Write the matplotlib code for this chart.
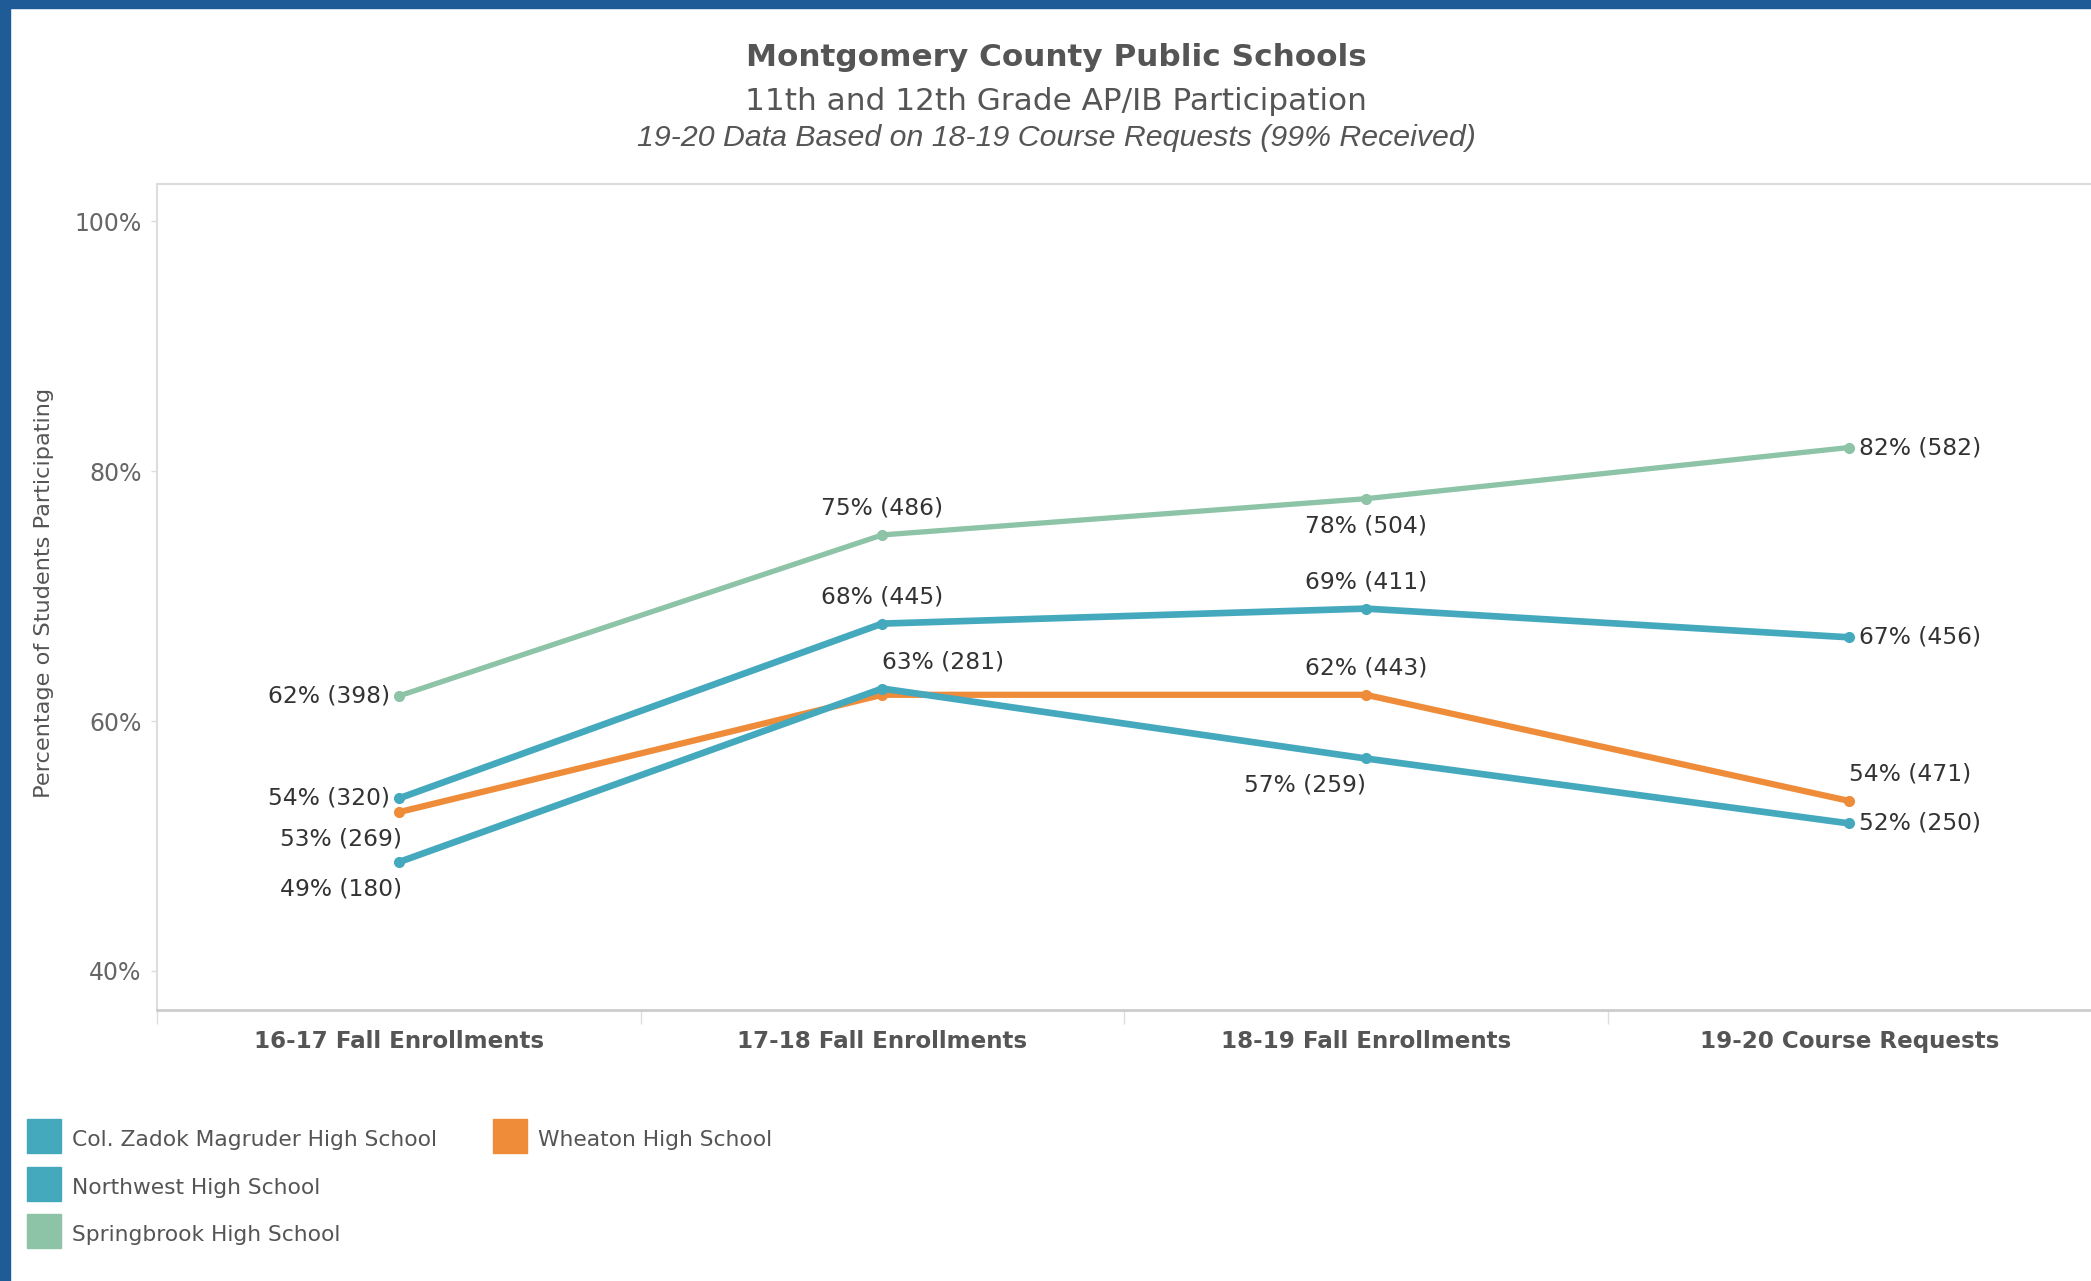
import matplotlib
matplotlib.use("Agg")
import matplotlib.pyplot as plt
from matplotlib.lines import Line2D
from matplotlib.patches import Rectangle

# ---------------- data ----------------
categories = ["16-17 Fall Enrollments", "17-18 Fall Enrollments",
              "18-19 Fall Enrollments", "19-20 Course Requests"]
schools = ["Col. Zadok Magruder High School", "Northwest High School",
           "Springbrook High School", "Wheaton High School"]

magruder_pct = [48.7, 62.6, 57.0, 51.8]
magruder_n = [180, 281, 259, 250]
northwest_pct = [53.8, 67.8, 69.0, 66.7]
northwest_n = [320, 445, 411, 456]
springbrook_pct = [62.0, 74.9, 77.8, 81.9]
springbrook_n = [398, 486, 504, 582]
wheaton_pct = [52.7, 62.1, 62.1, 53.6]
wheaton_n = [269, None, 443, 471]

y_ticks = [40, 60, 80, 100]

# ---------------- styles ----------------
TEAL = "#45A9BE"
GREEN = "#8DC3A7"
ORANGE = "#EE8C3A"
BORDER = "#1E5B97"

series = [
    ("Wheaton High School", wheaton_pct, wheaton_n, ORANGE, 4.5, 2),
    ("Col. Zadok Magruder High School", magruder_pct, magruder_n, TEAL, 4.8, 3),
    ("Northwest High School", northwest_pct, northwest_n, TEAL, 4.8, 3),
    ("Springbrook High School", springbrook_pct, springbrook_n, GREEN, 3.8, 3),
]

# label placement per point: (dx px, dy px, ha)
R, L, A, B = 10, -9, 27, -27
placement = {
    "Wheaton High School": [(3, B, "right"), None, (0, A, "center"), (0, A, "left")],
    "Col. Zadok Magruder High School": [(3, B, "right"), (0, A, "left"), (0, B, "right"), (R, 0, "left")],
    "Northwest High School": [(L, 0, "right"), (0, A, "center"), (0, A, "center"), (R, 0, "left")],
    "Springbrook High School": [(L, 0, "right"), (0, A, "center"), (0, B, "center"), (R, 0, "left")],
}

W, H = 2091, 1281
fig = plt.figure(figsize=(W / 100, H / 100), dpi=100)
fig.patch.set_facecolor("white")

ax_left, ax_top, ax_bottom = 157, 184, 1009.5
ax = fig.add_axes([ax_left / W, 1 - ax_bottom / H, 1 - ax_left / W, (ax_bottom - ax_top) / H])

x = list(range(len(categories)))
for name, pct, counts, color, lw, z in series:
    ax.plot(x, pct, color=color, lw=lw, marker="o", markersize=7,
            solid_capstyle="round", solid_joinstyle="round", zorder=z)
    for i, (p, n) in enumerate(zip(pct, counts)):
        pl = placement[name][i]
        if n is None or pl is None:
            continue
        dx, dy, ha = pl
        ax.annotate(f"{round(p)}% ({n})", (i, p), xytext=(dx, dy),
                    textcoords="offset pixels", ha=ha, va="center",
                    fontsize=16.8, color="#333333", zorder=5)

ax.set_xlim(-0.5, 3.5)
ax.set_ylim(36.9, 103)
ax.set_yticks(y_ticks)
ax.set_yticklabels([f"{t}%" for t in y_ticks])
ax.set_xticks(x)
ax.set_xticklabels(categories, fontweight="bold")
ax.set_xticks([-0.5, 0.5, 1.5, 2.5], minor=True)

ax.tick_params(axis="y", length=4, width=1, color="#dddddd", pad=7,
               labelsize=17, labelcolor="#666666")
ax.tick_params(axis="x", which="major", length=0, pad=15,
               labelsize=16.6, labelcolor="#555555")
ax.tick_params(axis="x", which="minor", length=10, width=1, color="#dddddd")

for s in ["left", "top"]:
    ax.spines[s].set_color("#dddddd")
    ax.spines[s].set_linewidth(1.5)
ax.spines["bottom"].set_color("#cccccc")
ax.spines["bottom"].set_linewidth(2)
ax.spines["right"].set_visible(False)

# y-axis title
fig.text(44 / W, 1 - 593 / H, "Percentage of Students Participating", rotation=90,
         ha="center", va="center", fontsize=16.2, color="#555555")

# titles
cx = 1056 / W
fig.text(cx, 1 - 58 / H, "Montgomery County Public Schools", ha="center", va="center",
         fontsize=22.4, fontweight="bold", color="#555555")
fig.text(cx, 1 - 102 / H, "11th and 12th Grade AP/IB Participation", ha="center", va="center",
         fontsize=22.4, color="#555555")
fig.text(cx, 1 - 138 / H, "19-20 Data Based on 18-19 Course Requests (99% Received)",
         ha="center", va="center", fontsize=21.8, style="italic", color="#555555",
         family=["Liberation Sans", "DejaVu Sans"])

# legend
colors = {name: c for name, _, _, c, _, _ in series}


def handles(names):
    return [Line2D([], [], ls="none", marker="s", markersize=24,
                   markerfacecolor=colors[n], markeredgecolor=colors[n]) for n in names]


col1 = schools[:3]
col2 = schools[3:]
common = dict(frameon=False, fontsize=15.7, loc="upper left", borderpad=0,
              borderaxespad=0, handlelength=1.5, handleheight=1.5,
              handletextpad=0.5, labelspacing=0.95, labelcolor="#555555")
leg1 = fig.legend(handles(col1), col1, bbox_to_anchor=(28 / W, 1 - 1126 / H), **common)
leg2 = fig.legend(handles(col2), col2, bbox_to_anchor=(494 / W, 1 - 1126 / H), **common)

# frame border
fig.add_artist(Rectangle((0, 1 - 8 / H), 1, 8 / H, transform=fig.transFigure,
                         color=BORDER, zorder=10))
fig.add_artist(Rectangle((0, 0), 10 / W, 1, transform=fig.transFigure,
                         color=BORDER, zorder=10))

fig.savefig("out.png", dpi=100)
